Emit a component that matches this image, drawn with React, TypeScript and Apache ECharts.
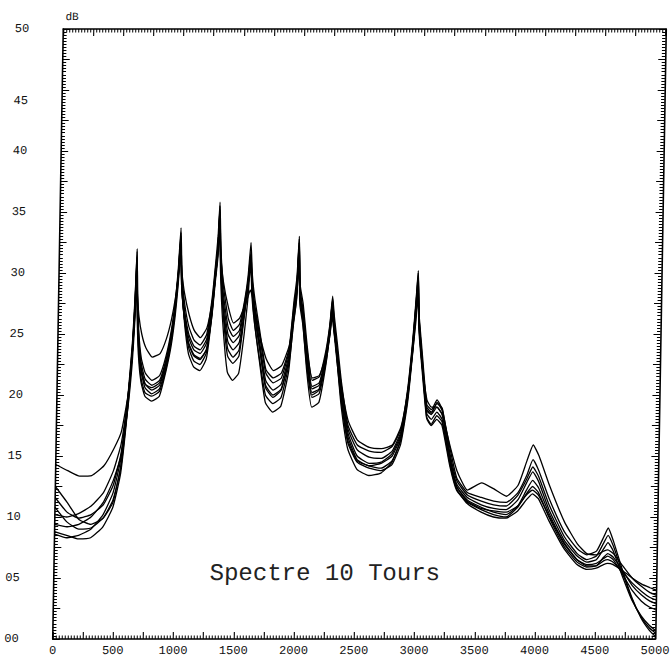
import React, { useEffect, useRef } from "react";
import * as echarts from "echarts";

// Frequency grid (Hz)
const freqs = [
  0, 100, 200, 300, 400, 480, 540, 590, 620, 635,
  645, 655, 670, 695, 730, 786, 850, 900, 940, 970,
  990, 1006, 1020, 1045, 1085, 1130, 1182, 1235, 1275, 1300,
  1315, 1326, 1340, 1365, 1410, 1455, 1505, 1545, 1570, 1589,
  1605, 1630, 1675, 1730, 1793, 1860, 1920, 1955, 1975, 1989,
  2003, 2030, 2070, 2116, 2175, 2225, 2255, 2274, 2290, 2320,
  2360, 2420, 2500, 2600, 2700, 2790, 2860, 2910, 2945, 2968,
  2981, 2995, 3020, 3071, 3110, 3155, 3200, 3270, 3330, 3420,
  3537, 3640, 3745, 3840, 3910, 3960, 4010, 4100, 4230, 4340,
  4420, 4500, 4560, 4594, 4640, 4720, 4800, 4880, 4950, 5000,
];

// Spectra (dB)
const spectrumA = [
  14.3, 13.8, 13.35, 13.4, 14.2, 15.6, 17.0, 20.0, 23.5, 26.5,
  29.5, 28.0, 26.4, 25.0, 23.9, 23.1, 23.4, 24.6, 26.2, 28.0,
  29.8, 31.5, 30.0, 28.3, 26.6, 25.3, 24.7, 25.5, 27.6, 29.8,
  31.6, 33.5, 31.4, 29.3, 27.2, 25.9, 26.3, 27.3, 28.0, 28.6,
  28.2, 27.0, 24.9, 23.0, 22.0, 22.4, 24.0, 26.2, 28.0, 30.5,
  28.6, 26.4, 23.6, 21.4, 21.6, 23.2, 24.8, 26.4, 25.2, 23.4,
  20.7, 17.9, 16.3, 15.7, 15.6, 15.9, 17.4, 20.2, 23.4, 26.0,
  28.0, 26.0, 23.0, 19.6, 19.0, 19.0, 18.4, 15.8, 13.8, 12.2,
  12.8, 12.3, 11.7, 12.6, 14.6, 15.9, 15.0, 12.6, 9.6, 7.8,
  7.0, 6.9, 7.2, 7.3, 7.0, 6.0, 5.0, 4.3, 3.8, 3.6,
];
const spectrumB = [
  12.5, 11.2, 9.8, 9.4, 9.9, 11.2, 14.2, 19.5, 24.0, 27.8,
  31.8, 28.3, 25.2, 23.0, 21.8, 21.2, 21.6, 23.2, 25.3, 27.8,
  30.5, 33.7, 30.0, 27.6, 25.6, 24.5, 24.1, 25.0, 28.0, 31.0,
  33.0, 35.8, 32.0, 29.0, 26.3, 25.3, 25.8, 27.8, 29.8, 32.5,
  29.8, 27.8, 25.2, 22.1, 21.4, 21.8, 23.8, 27.8, 29.6, 33.0,
  29.0, 27.5, 24.0, 21.2, 21.5, 23.6, 25.8, 28.1, 26.5, 24.2,
  21.0, 17.5, 15.9, 15.4, 15.3, 15.8, 17.2, 20.5, 24.5, 28.0,
  30.2, 26.5, 24.0, 19.2, 18.8, 19.6, 18.8, 15.6, 13.2, 12.0,
  11.6, 11.3, 11.2, 12.0, 13.4, 14.7, 13.8, 11.5, 8.8, 7.4,
  6.9, 7.2, 8.4, 9.1, 8.0, 5.6, 3.4, 1.7, 0.7, 0.2,
];
const spectrumC = [
  11.6, 10.4, 9.9, 10.2, 11.0, 12.6, 15.2, 19.8, 24.0, 27.4,
  31.0, 27.8, 24.8, 22.6, 21.3, 20.8, 21.2, 22.9, 25.0, 27.5,
  30.0, 33.0, 29.6, 27.1, 25.0, 24.0, 23.7, 24.6, 27.6, 30.6,
  32.2, 35.2, 31.6, 28.4, 25.6, 24.8, 25.3, 27.6, 29.4, 31.7,
  29.3, 27.3, 24.8, 21.8, 21.0, 21.4, 23.6, 27.4, 29.0, 32.5,
  28.6, 27.0, 23.5, 20.7, 21.0, 23.3, 25.6, 27.8, 26.1, 23.7,
  20.6, 17.2, 15.5, 14.9, 14.8, 15.4, 17.0, 20.3, 24.2, 27.6,
  29.6, 26.2, 23.6, 19.0, 18.6, 19.3, 18.9, 15.2, 13.0, 11.8,
  11.3, 11.0, 10.9, 11.8, 13.1, 14.1, 13.3, 11.0, 8.4, 7.0,
  6.5, 6.8, 7.9, 8.5, 7.6, 5.4, 3.3, 1.8, 0.9, 0.5,
];
const spectrumD = [
  10.8, 9.6, 9.0, 9.1, 9.9, 11.4, 14.0, 19.2, 23.6, 27.0,
  30.5, 27.4, 24.4, 22.2, 20.9, 20.4, 20.8, 22.6, 24.7, 27.3,
  29.7, 32.5, 29.2, 26.8, 24.7, 23.7, 23.4, 24.3, 27.3, 30.3,
  31.9, 34.8, 31.2, 27.9, 25.0, 24.3, 24.9, 27.3, 29.2, 31.3,
  29.0, 26.9, 24.3, 21.2, 20.4, 20.9, 23.3, 27.1, 28.7, 32.0,
  28.3, 26.7, 23.2, 20.5, 20.8, 23.1, 25.4, 27.5, 25.9, 23.4,
  20.3, 16.9, 15.0, 14.4, 14.5, 15.2, 16.8, 20.0, 24.0, 27.3,
  29.2, 25.9, 23.3, 18.7, 18.4, 19.0, 18.4, 14.9, 12.7, 11.6,
  11.0, 10.7, 10.6, 11.4, 12.8, 13.7, 12.9, 10.6, 8.1, 6.8,
  6.3, 6.5, 7.4, 7.9, 7.2, 5.1, 3.2, 1.9, 1.1, 0.7,
];
const spectrumE = [
  10.2, 10.0, 10.3, 10.9, 12.0, 13.8, 16.0, 19.9, 23.5, 26.7,
  30.0, 27.0, 24.0, 21.9, 20.6, 20.1, 20.5, 22.3, 24.4, 27.0,
  29.4, 32.0, 28.8, 26.4, 24.2, 23.2, 22.9, 23.8, 26.9, 29.9,
  31.5, 34.3, 30.8, 27.4, 24.4, 23.7, 24.3, 26.9, 28.9, 31.0,
  28.6, 26.4, 23.8, 20.6, 19.8, 20.4, 22.9, 26.8, 28.3, 31.5,
  27.9, 26.3, 22.8, 20.2, 20.5, 22.8, 25.0, 27.0, 25.5, 23.0,
  19.9, 16.6, 14.7, 14.2, 14.4, 15.0, 16.6, 19.8, 23.7, 27.0,
  28.8, 25.6, 23.0, 18.5, 18.0, 18.6, 18.0, 14.6, 12.5, 11.4,
  10.8, 10.4, 10.2, 10.9, 12.2, 13.0, 12.4, 10.3, 7.9, 6.5,
  6.0, 6.0, 6.4, 6.5, 6.3, 5.5, 4.6, 3.9, 3.4, 3.2,
];
const spectrumF = [
  8.8, 8.5, 8.2, 8.3, 9.2, 10.8, 13.6, 19.0, 23.6, 27.4,
  31.3, 27.5, 24.0, 21.4, 20.2, 19.9, 20.3, 22.1, 24.4, 27.2,
  29.9, 33.3, 29.2, 26.2, 23.4, 22.3, 22.0, 23.0, 26.6, 30.0,
  32.0, 35.5, 31.0, 27.0, 23.2, 22.6, 23.2, 26.6, 28.9, 31.5,
  28.5, 25.9, 22.8, 19.4, 18.6, 19.1, 22.0, 26.5, 28.6, 32.8,
  28.2, 26.0, 21.9, 19.0, 19.4, 22.3, 25.1, 27.9, 25.8, 22.8,
  19.1, 15.6, 13.9, 13.4, 13.6, 14.5, 16.4, 19.8, 24.0, 27.7,
  30.0, 26.3, 23.4, 18.2, 17.6, 18.3, 17.8, 14.4, 12.3, 11.1,
  10.4, 10.0, 9.9, 10.5, 11.4, 11.9, 11.5, 9.7, 7.4, 6.1,
  5.7, 5.8, 6.1, 6.2, 6.1, 5.6, 5.0, 4.5, 4.2, 4.0,
];
const spectrumG = [
  9.4, 9.2, 9.4, 10.0, 11.2, 13.0, 15.0, 18.9, 22.6, 25.9,
  29.5, 26.3, 23.3, 21.1, 19.9, 19.5, 19.9, 21.9, 24.0, 26.5,
  29.0, 31.8, 28.8, 26.5, 24.3, 23.3, 23.0, 23.7, 26.5, 29.5,
  31.1, 34.0, 30.0, 26.0, 21.9, 21.2, 21.8, 25.0, 27.8, 30.8,
  28.0, 25.8, 23.0, 20.0, 19.3, 19.8, 22.5, 26.0, 27.8, 31.0,
  27.4, 25.8, 22.3, 19.8, 20.1, 22.5, 24.8, 26.8, 25.2, 22.7,
  19.5, 16.1, 14.5, 14.0, 13.8, 14.3, 16.0, 19.3, 23.3, 26.6,
  28.5, 25.3, 22.7, 18.1, 17.5, 18.0, 17.5, 14.2, 12.2, 11.2,
  10.6, 10.2, 10.0, 10.8, 11.9, 12.5, 12.0, 10.0, 7.6, 6.3,
  5.9, 6.0, 6.7, 7.0, 6.7, 5.6, 4.4, 3.6, 3.1, 2.9,
];
const spectrumH = [
  8.6, 8.3, 8.5, 9.0, 10.2, 12.0, 14.8, 20.0, 24.5, 28.2,
  32.0, 28.0, 24.6, 22.2, 20.9, 20.6, 21.0, 22.7, 24.8, 27.3,
  29.9, 32.8, 29.0, 26.4, 23.9, 22.8, 22.5, 23.5, 26.8, 30.0,
  31.7, 35.0, 30.9, 27.2, 23.8, 23.1, 23.7, 26.8, 28.9, 31.2,
  28.7, 26.6, 23.9, 20.8, 20.0, 20.5, 22.9, 26.7, 28.5, 32.2,
  28.0, 26.3, 22.7, 20.0, 20.4, 22.8, 25.2, 27.3, 25.6, 23.0,
  19.7, 16.3, 14.6, 14.2, 14.0, 14.6, 16.3, 19.6, 23.6, 27.0,
  29.0, 25.8, 23.1, 18.8, 18.5, 19.4, 18.7, 14.8, 12.5, 11.3,
  10.7, 10.5, 10.4, 10.9, 11.8, 12.2, 11.8, 10.1, 7.8, 6.5,
  6.1, 6.2, 6.6, 6.8, 6.5, 5.3, 4.0, 3.1, 2.6, 2.4,
];

// Tick labels
const xTickLabels = ["0", "500", "1000", "1500", "2000", "2500", "3000", "3500", "4000", "4500", "5000"];
const yTickLabels = ["00", "05", "10", "15", "20", "25", "30", "35", "40", "45", "50"];

const unitLabel = "dB";
const titleText = "Spectre 10 Tours";

const FONT = "'Liberation Mono', 'DejaVu Sans Mono', monospace";

export default function App() {
  const ref = useRef<HTMLDivElement>(null);

  useEffect(() => {
    if (!ref.current) return;
    const chart = echarts.init(ref.current, null, { renderer: "svg" });
    const spectra = [spectrumA, spectrumB, spectrumC, spectrumD, spectrumE, spectrumF, spectrumG, spectrumH];

    const series = spectra.map((s, i) => ({
      type: "line",
      name: "s" + i,
      data: freqs.map((f, j) => [f, s[j]]),
      showSymbol: false,
      symbol: "none",
      smooth: 0.15,
      silent: true,
      lineStyle: { color: "#000", width: 1.3 },
      z: 2,
    }));

    const axisLine = { show: true, onZero: false, lineStyle: { color: "#000", width: 1.6 } };
    const axisTick = { show: true, inside: true, length: 7, lineStyle: { color: "#000", width: 1.1 } };
    const minorTick = { show: true, splitNumber: 10, length: 3.5, lineStyle: { color: "#000", width: 1 } };

    const xLabelFmt = (v: number) => {
      if (Math.abs(v % 500) > 1e-6) return "";
      return xTickLabels[Math.round(v / 500)];
    };
    const yLabelFmt = (v: number) => {
      if (Math.abs(v % 5) > 1e-6) return "";
      const idx = Math.round(v / 5);
      const t = yTickLabels[idx];
      return idx === 9 ? "{low|" + t + "}" : t;
    };

    chart.setOption({
      animation: false,
      backgroundColor: "#fff",
      grid: { left: 58, right: 39.5, top: 29, bottom: 19, containLabel: false, outerBoundsMode: "none" },
      xAxis: [
        {
          type: "value",
          position: "bottom",
          min: 0,
          max: 5000,
          interval: 250,
          axisLine,
          axisTick,
          minorTick,
          splitLine: { show: false },
          axisLabel: {
            show: true,
            formatter: xLabelFmt,
            margin: 6,
            color: "#111",
            fontSize: 12,
            fontFamily: FONT,
            showMinLabel: true,
            showMaxLabel: true,
          },
        },
        {
          type: "value",
          position: "top",
          min: 0,
          max: 5000,
          interval: 250,
          axisLine,
          axisTick,
          minorTick,
          splitLine: { show: false },
          axisLabel: { show: false },
        },
      ],
      yAxis: [
        {
          type: "value",
          position: "left",
          min: 0,
          max: 50,
          interval: 2.5,
          axisLine,
          axisTick,
          minorTick,
          splitLine: { show: false },
          axisLabel: {
            show: true,
            formatter: yLabelFmt,
            margin: 34,
            color: "#111",
            fontSize: 12,
            fontFamily: FONT,
            rich: {
              low: { padding: [22, 0, 0, 0], fontSize: 12, fontFamily: FONT, color: "#111" },
            },
          },
        },
        {
          type: "value",
          position: "right",
          min: 0,
          max: 50,
          interval: 2.5,
          axisLine,
          axisTick,
          minorTick,
          splitLine: { show: false },
          axisLabel: { show: false },
        },
      ],
      graphic: [
        {
          type: "text",
          left: 60,
          top: 11,
          style: { text: unitLabel, fontSize: 11, fontFamily: FONT, fill: "#111" },
        },
        {
          type: "text",
          x: 329,
          y: 574,
          style: {
            text: titleText,
            fontSize: 24,
            fontFamily: FONT,
            fill: "#222",
            align: "center",
            verticalAlign: "middle",
          },
        },
      ],
      series,
    });

    return () => chart.dispose();
  }, []);

  return (
    <div style={{ position: "fixed", left: 0, top: 0, width: 670, height: 658, overflow: "hidden", background: "#fff" }}>
      <div
        ref={ref}
        style={{
          position: "absolute",
          left: 0,
          top: 0,
          width: 700,
          height: 658,
          transform: "skewX(-0.99deg)",
          transformOrigin: "335px 334px",
        }}
      />
    </div>
  );
}
